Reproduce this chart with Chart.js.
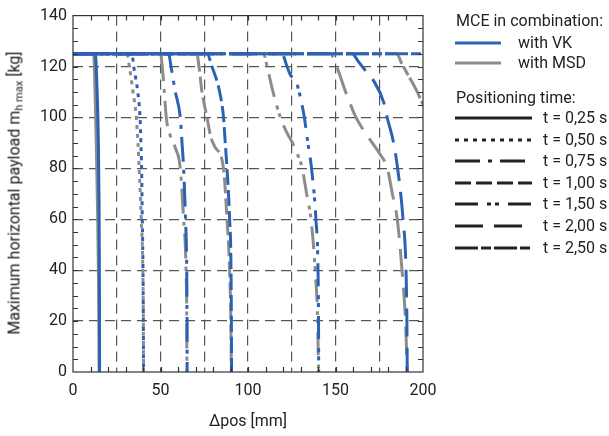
<!DOCTYPE html>
<html>
<head>
<meta charset="utf-8">
<script src="https://cdn.jsdelivr.net/npm/chart.js@4.4.1/dist/chart.umd.min.js"></script>
<style>
  body { margin: 0; background: #fff; font-family: Roboto, sans-serif; color: #222; }
  #wrap { position: relative; width: 609px; height: 436px; }
  #chart { position: absolute; left: 0; top: 0; }
  .ytitle { position: absolute; left: 15px; top: 193px; transform: translate(-50%, -50%) rotate(-90deg);
            white-space: nowrap; font-size: 16px; }
  .ytitle sub { font-size: 11px; vertical-align: -3px; }
  .lg { position: absolute; font-size: 16px; line-height: 20px; white-space: nowrap; }
  .lg-line { position: absolute; }
</style>
</head>
<body>
<div id="wrap">
  <canvas id="chart" width="609" height="436"></canvas>
  <div class="ytitle">Maximum horizontal payload m<sub>h max</sub> [kg]</div>
  <div id="legend"></div>
</div>
<script>
// Δpos [mm] vs max payload [kg], one array per positioning time
const timeLabels = ['t = 0,25 s', 't = 0,50 s', 't = 0,75 s', 't = 1,00 s', 't = 1,50 s', 't = 2,00 s', 't = 2,50 s'];
const groupLabels = ['with VK', 'with MSD'];

const vk025 = [[0,125],[12.7,125],[13.8,110],[14.5,90],[14.9,65],[15.1,35],[15.2,0]];
const vk050 = [[0,125],[33.7,125],[34.7,120],[37,110],[38.3,100],[38.8,90],[39.2,80],[39.6,60],[40,40],[40.2,20],[40.3,0]];
const vk075 = [[0,125],[54.7,125],[56,120],[58.5,110],[61.3,100],[62.3,90],[63.2,80],[64.3,60],[65,40],[65.2,20],[65.2,0]];
const vk100 = [[0,125],[76.6,125],[79.4,120],[83.8,110],[86,100],[87,90],[88,80],[89.5,60],[90.3,40],[90.5,20],[90.6,0]];
const vk150 = [[0,125],[119.4,125],[122.3,120],[124,117],[128,113],[129.9,108],[132.2,100],[134,91],[136.3,80],[138.8,60],[140,40],[140.3,20],[140.4,0]];
const vk200 = [[0,125],[159.5,125],[163,122],[167,118.5],[171.7,114.5],[177.5,106],[179.5,100],[183.2,90],[185.5,80],[188.6,60],[190.3,40],[190.8,20],[191,0]];
const vk250 = [[0,125],[205,125],[210,118]];

const msd025 = [[0,125],[11.8,125],[12.6,110],[13.3,90],[14,65],[14.6,35],[14.9,0]];
const msd050 = [[0,125],[30.8,125],[32.2,120],[34.3,110],[36.2,100],[37.1,90],[37.8,80],[39,60],[39.9,40],[40.2,20],[40.3,0]];
const msd075 = [[0,125],[50,125],[51,120],[52.2,110],[53.3,100],[55.5,93],[58.5,88],[61.3,80],[63.2,60],[64.6,40],[65,20],[65.1,0]];
const msd100 = [[0,125],[70.8,125],[72,120],[73.7,110],[76.6,100],[78.5,93],[81,88.5],[86,80],[88,60],[89.5,40],[90.2,20],[90.5,0]];
const msd150 = [[0,125],[108.9,125],[110.9,120],[114.3,110],[118.5,100],[121.5,95],[125,90.5],[128,86],[131,80],[133.5,70],[136,60],[138.4,40],[139.8,20],[140.3,0]];
const msd200 = [[0,125],[147,125],[150.7,120],[155.8,110],[161.7,100],[166,95],[171,90],[175,86],[179.6,80],[182.5,70],[185.3,60],[188,40],[190,20],[191,0]];
const msd250 = [[0,125],[184.8,125],[188,121],[192,116],[196,111],[199.4,106],[203,101]];

const vkSeries = [vk025, vk050, vk075, vk100, vk150, vk200, vk250];
const msdSeries = [msd025, msd050, msd075, msd100, msd150, msd200, msd250];

const BLUE = '#2b62b3';
const GRAY = '#8c8c8c';
const DASHES = [[], [4, 5], [25, 8, 4, 8], [16, 5], [23, 9, 4, 4, 4, 9], [28, 11], [23, 3, 10, 3]];

const datasets = [];
vkSeries.forEach((s, i) => {
    datasets.push({ label: groupLabels[0] + ' ' + timeLabels[i], data: s.map(p => ({ x: p[0], y: p[1] })),
        borderColor: BLUE, borderDash: DASHES[i], order: 0 });
});
msdSeries.forEach((s, i) => {
    datasets.push({ label: groupLabels[1] + ' ' + timeLabels[i], data: s.map(p => ({ x: p[0], y: p[1] })),
        borderColor: GRAY, borderDash: DASHES[i], order: 1 });
});

// frame with inward ticks on all four sides
const framePlugin = {
    id: 'frame',
    afterDatasetsDraw(chart) {
        const { ctx, chartArea: a, scales: { x, y } } = chart;
        ctx.save();
        ctx.strokeStyle = '#333';
        ctx.lineWidth = 1.2;
        ctx.beginPath();
        for (let v = 10; v < 200; v += 10) {
            const px = Math.round(x.getPixelForValue(v)) + 0.5;
            ctx.moveTo(px, a.bottom); ctx.lineTo(px, a.bottom - 5);
            ctx.moveTo(px, a.top); ctx.lineTo(px, a.top + 5);
        }
        for (let v = 5; v < 140; v += 5) {
            const py = Math.round(y.getPixelForValue(v)) + 0.5;
            ctx.moveTo(a.left, py); ctx.lineTo(a.left + 5, py);
            ctx.moveTo(a.right, py); ctx.lineTo(a.right - 5, py);
        }
        ctx.stroke();
        ctx.strokeRect(a.left, a.top, a.right - a.left, a.bottom - a.top);
        ctx.restore();
    }
};

const font = { family: 'Roboto', size: 16 };

new Chart(document.getElementById('chart'), {
    type: 'line',
    data: { datasets },
    options: {
        responsive: false,
        animation: false,
        layout: { padding: { top: 15, right: 186, bottom: 0, left: 0 } },
        elements: { point: { radius: 0 }, line: { borderWidth: 3, cubicInterpolationMode: 'monotone' } },
        datasets: { line: { clip: 0 } },
        plugins: { legend: { display: false }, tooltip: { enabled: false } },
        scales: {
            x: {
                type: 'linear', min: 0, max: 200,
                afterFit: s => { s.height = 64; },
                ticks: { stepSize: 25, autoSkip: false, maxRotation: 0, color: '#222', font, padding: 9,
                         callback: v => (v % 50 === 0 ? v : '') },
                grid: { drawTicks: false, lineWidth: 1.2,
                        color: c => (c.tick && (c.tick.value === 0 || c.tick.value === 200) ? 'rgba(0,0,0,0)' : '#555') },
                border: { display: false, dash: [10, 6] },
                title: { display: true, text: 'Δpos [mm]', color: '#222', font, padding: { top: 8 } }
            },
            y: {
                type: 'linear', min: 0, max: 140,
                afterFit: s => { s.width = 73; },
                ticks: { stepSize: 20, color: '#222', font, padding: 6 },
                grid: { drawTicks: false, lineWidth: 1.2,
                        color: c => (c.tick && (c.tick.value === 0 || c.tick.value === 140) ? 'rgba(0,0,0,0)' : '#555') },
                border: { display: false, dash: [10, 6] }
            }
        }
    },
    plugins: [framePlugin]
});

// legend: two colour entries, then the line styles
const legend = document.getElementById('legend');
const svgLine = (x, y, w, color, dash) =>
    `<svg class="lg-line" style="left:${x}px;top:${y - 3}px" width="${w}" height="6">` +
    `<line x1="0" y1="3" x2="${w}" y2="3" stroke="${color}" stroke-width="3" stroke-dasharray="${dash.join(' ')}"/></svg>`;
const text = (x, y, t) => `<div class="lg" style="left:${x}px;top:${y - 10}px">${t}</div>`;

let html = text(456, 21, 'MCE in combination:');
[BLUE, GRAY].forEach((c, i) => {
    const cy = 43 + i * 20;
    html += svgLine(455, cy, 46, c, []) + text(518, cy, groupLabels[i]);
});
html += text(456, 98, 'Positioning time:');
timeLabels.forEach((t, i) => {
    const cy = 118 + i * 21.6;
    html += svgLine(455, cy, 77, '#222', DASHES[i]) + text(543, cy, t);
});
legend.innerHTML = html;
</script>
</body>
</html>
